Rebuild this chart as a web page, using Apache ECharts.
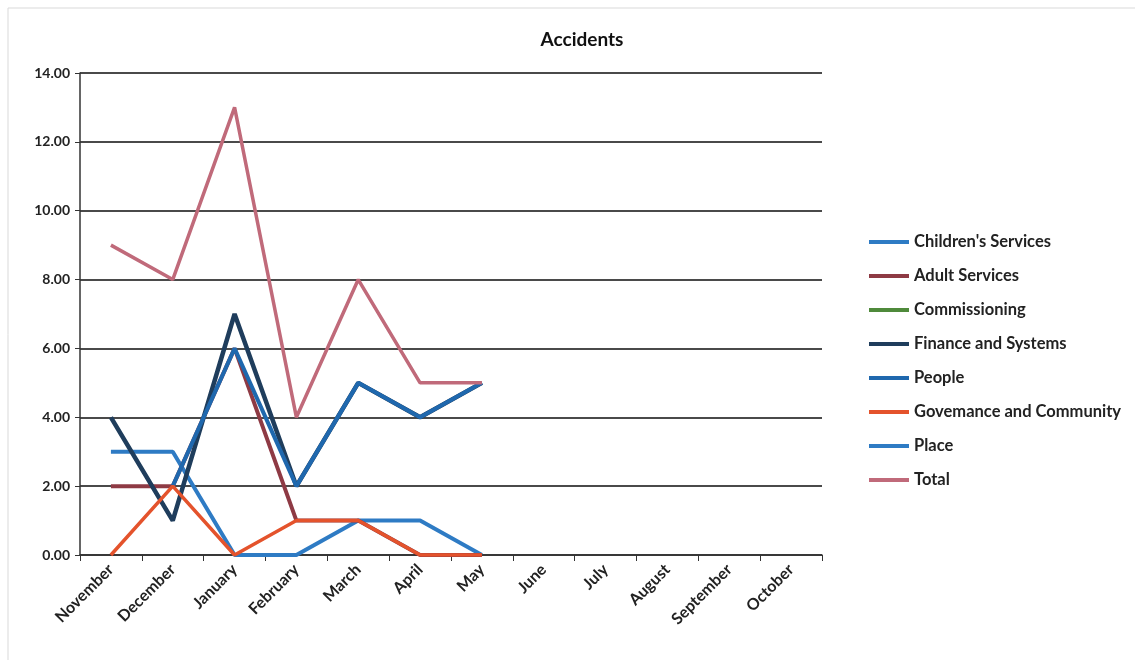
<!DOCTYPE html>
<html>
<head>
<meta charset="utf-8">
<title>Accidents</title>
<script src="https://cdn.jsdelivr.net/npm/echarts@6/dist/echarts.min.js"></script>
<style>
    html, body {margin:0; padding:0; background:#fff;}
    #chart {width:1135px; height:660px;}
</style>
</head>
<body>
<div id="chart"></div>
<script>
// months on the x axis
var months = ['November','December','January','February','March','April','May','June','July','August','September','October'];

// series values (only Nov - May have data)
var childrensServices = [3, 3, 0, 0, 1, 1, 0];
var adultServices = [2, 2, 6, 1, 1, 0, 0];
var commissioning = [];
var financeSystems = [4, 1, 7, 2, 5, 4, 5];
var people = [null, 2, 6, 2, 5, 4, 5];
var governance = [0, 2, 0, 1, 1, 0, 0];
var place = [];
var total = [9, 8, 13, 4, 8, 5, 5];

var yTicks = [0, 2, 4, 6, 8, 10, 12, 14];

(function(){

    var font = 'Lato, "Open Sans", sans-serif';

    function mkSeries(name, data, color, width){
        return {
            name : name,
            type : 'line',
            data : data,
            symbol : 'none',
            smooth : false,
            lineStyle : {color : color, width : width},
            itemStyle : {color : color},
            emphasis : {disabled : true}
        };
    }

    var option = {
        animation : false,
        backgroundColor : '#fff',
        graphic : [{
            type : 'rect',
            shape : {x : 8, y : 8, width : 1140, height : 660},
            style : {fill : 'none', stroke : '#d9d9d9', lineWidth : 1}
        }],
        title : {
            text : 'Accidents',
            left : 577,
            top : 25,
            textAlign : 'center',
            textStyle : {fontFamily : font, fontSize : 19, fontWeight : 'bold', color : '#111'}
        },
        legend : {
            orient : 'vertical',
            left : 864,
            top : 227,
            itemWidth : 40,
            itemHeight : 4,
            itemGap : 14,
            icon : 'rect',
            textStyle : {fontFamily : font, fontSize : 16.5, fontWeight : 'bold', color : '#222', lineHeight : 20},
            data : ["Children's Services", 'Adult Services', 'Commissioning', 'Finance and Systems', 'People', 'Govemance and Community', 'Place', 'Total']
        },
        grid : {left : 80, right : 313, top : 73, bottom : 105, containLabel : false},
        xAxis : {
            type : 'category',
            data : months,
            boundaryGap : true,
            axisLine : {lineStyle : {color : '#333', width : 1.5}},
            axisTick : {show : true, length : 6, lineStyle : {color : '#333'}},
            axisLabel : {
                rotate : 45,
                interval : 0,
                margin : 12,
                fontFamily : font,
                fontSize : 16,
                fontWeight : 'bold',
                color : '#222'
            }
        },
        yAxis : {
            type : 'value',
            min : yTicks[0],
            max : yTicks[yTicks.length - 1],
            interval : 2,
            axisLine : {show : true, lineStyle : {color : '#333', width : 1.5}},
            axisTick : {show : true, length : 5, lineStyle : {color : '#333'}},
            axisLabel : {
                fontFamily : font,
                fontSize : 14,
                fontWeight : 'bold',
                color : '#222',
                margin : 10,
                formatter : function(v){ return v.toFixed(2); }
            },
            splitLine : {lineStyle : {color : '#4a4a4a', width : 2}}
        },
        series : [
            mkSeries("Children's Services", childrensServices, '#2E7BC4', 4),
            mkSeries('Adult Services', adultServices, '#8E3A44', 4),
            mkSeries('Commissioning', commissioning, '#4F8A3B', 4),
            mkSeries('Finance and Systems', financeSystems, '#1F3D5C', 4.5),
            mkSeries('People', people, '#1F68AE', 4),
            mkSeries('Govemance and Community', governance, '#E4532C', 3.5),
            mkSeries('Place', place, '#2E7BC4', 4),
            mkSeries('Total', total, '#C06A7A', 3.5)
        ]
    };

    var chart = echarts.init(document.getElementById('chart'));
    chart.setOption(option);

})();
</script>
</body>
</html>
